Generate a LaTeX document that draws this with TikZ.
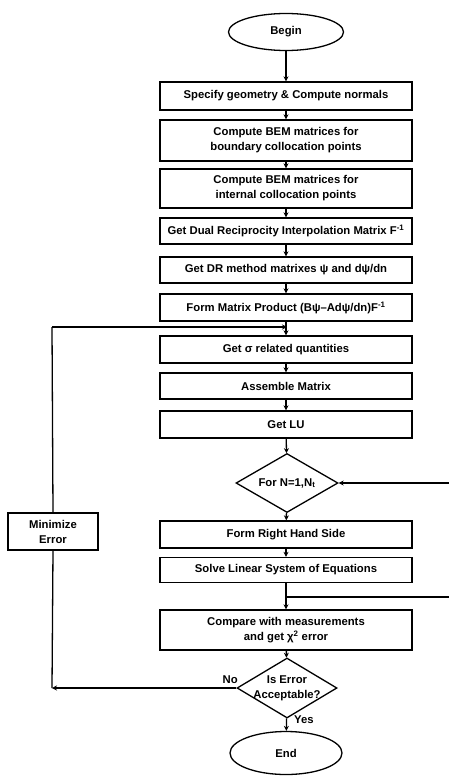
\documentclass[tikz,border=0pt]{standalone}
\usepackage{fontspec}
\setmainfont{Liberation Sans}
\usetikzlibrary{shapes.geometric,arrows.meta}
\begin{document}
\begin{tikzpicture}[x=1pt,y=-1pt,
  every node/.style={font=\bfseries\fontsize{11.3}{15}\selectfont, align=center, inner sep=0pt},
  box/.style={draw, line width=1.3pt, minimum width=252pt},
  term/.style={draw, line width=1.3pt, ellipse},
  dec/.style={draw, line width=1.3pt, diamond},
  arr/.style={line width=1.3pt, -{Stealth[length=5pt,width=5pt]}},
  ln/.style={line width=1.3pt}]
\useasboundingbox (0,0) rectangle (448,776);
\node[term, minimum width=115pt, minimum height=37pt] (begin) at (286,32) {Begin};
\node[box, minimum height=28pt] (b1) at (286,96) {Specify geometry \& Compute normals};
\node[box, minimum height=41pt] (b2) at (286,140.5) {Compute BEM matrices for\\boundary collocation points};
\node[box, minimum height=39pt] (b3) at (286,188.5) {Compute BEM matrices for\\internal collocation points};
\node[box, minimum height=26pt] (b4) at (286,231) {Get Dual Reciprocity Interpolation Matrix F\textsuperscript{-1}};
\node[box, minimum height=26pt] (b5) at (286,270) {Get DR method matrixes ψ and dψ/dn};
\node[box, minimum height=27pt] (b6) at (286,307.5) {Form Matrix Product (Bψ–Adψ/dn)F\textsuperscript{-1}};
\node[box, minimum height=27pt] (b7) at (286,349.5) {Get σ related quantities};
\node[box, minimum height=26pt] (b8) at (286,386) {Assemble Matrix};
\node[box, minimum height=27pt] (b9) at (286,424.5) {Get LU};
\node[dec, minimum width=102pt, minimum height=59pt] (d1) at (287,483) {};
\node (d1t) at (d1) {For N=1,N\textsubscript{t}};
\node[box, minimum height=27pt] (b10) at (286,534.5) {Form Right Hand Side};
\node[box, minimum height=25pt] (b11) at (286,570) {Solve Linear System of Equations};
\node[box, minimum height=40pt] (b12) at (286,630) {Compare with measurements\\and get χ\textsuperscript{2} error};
\node[dec, minimum width=100pt, minimum height=60pt] (d2) at (287,688) {};
\node (d2t) at (d2) {Is Error\\Acceptable?};
\node[term, minimum width=112pt, minimum height=43pt] (end) at (286,753) {End};
\node[box, minimum width=90pt, minimum height=37pt] (min) at (53,531.5) {Minimize\\Error};
\node[anchor=south east] (no) at (238,684) {No};
\node[anchor=north west] (yes) at (294,716) {Yes};
\coordinate (j1) at (287,327);
\coordinate (c1) at (52,327);
\coordinate (c2) at (52,688);
\coordinate (j2) at (287,597);
\coordinate (r1) at (452,597);
\coordinate (r2) at (452,483);
\draw[arr] (begin) -- (b1);
\draw[arr] (b1) -- (b2);
\draw[arr] (b2) -- (b3);
\draw[arr] (b3) -- (b4);
\draw[arr] (b4) -- (b5);
\draw[arr] (b5) -- (b6);
\draw[arr] (b6) -- (b7);
\draw[arr] (b7) -- (b8);
\draw[arr] (b8) -- (b9);
\draw[arr] (b9) -- (d1);
\draw[arr] (d1) -- (b10);
\draw[arr] (b10) -- (b11);
\draw[arr] (b11) -- (b12);
\draw[arr] (b12) -- (d2);
\draw[arr] (d2) -- (end);
\draw[arr] (d2.west) -- (c2);
\draw[ln] (c2) -- (min.south);
\draw[ln] (min.north) -- (c1);
\draw[arr] (c1) -- (j1);
\draw[arr] (j2) -- (r1) -- (r2) -- (d1.east);
\end{tikzpicture}
\end{document}
